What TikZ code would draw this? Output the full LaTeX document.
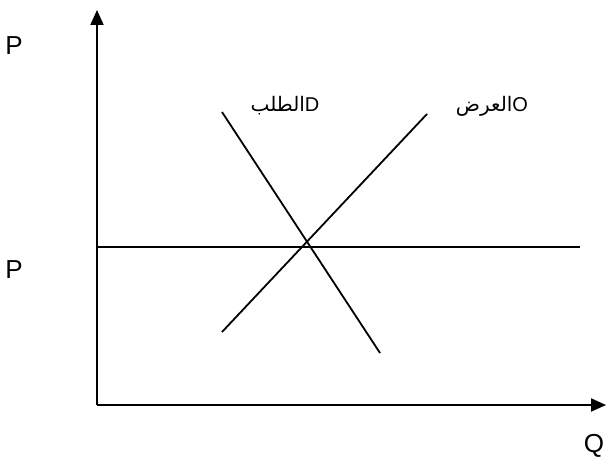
\documentclass[tikz,border=0pt]{standalone}
\usepackage{fontspec}
\setmainfont{Liberation Sans}
\newfontfamily\arabicfont[Script=Arabic]{DejaVu Sans}
\TeXXeTstate=1
\usetikzlibrary{arrows.meta}

\begin{document}
\begin{tikzpicture}[
  x=1pt, y=-1pt,
  axis/.style={-{Triangle[length=15pt, width=13pt]}, line width=2pt, black},
  curve/.style={line width=1.8pt, black},
  axlbl/.style={font=\fontsize{26}{28}\selectfont, inner sep=0pt},
  crvlbl/.style={font=\fontsize{20}{22}\selectfont, inner sep=0pt},
]
\useasboundingbox (0,0) rectangle (608,465);

% axes
\coordinate (origin) at (97,405);
\coordinate (ytop) at (97,10);
\coordinate (xend) at (606,405);
\draw[axis] (origin) -- (ytop);
\draw[axis] (origin) -- (xend);

% price line
\coordinate (pl) at (97,247);
\coordinate (pr) at (580,247);
\draw[curve] (pl) -- (pr);

% demand and supply
\coordinate (d1) at (222,112);
\coordinate (d2) at (380,353);
\coordinate (s1) at (222,332);
\coordinate (s2) at (427,114);
\draw[curve] (d1) -- (d2);
\draw[curve] (s1) -- (s2);

% labels
\node[axlbl] (ptop) at (14,46) {P};
\node[axlbl] (peq) at (14,270) {P};
\node[axlbl] (qlbl) at (594,446) {Q};
\node[crvlbl] (dlbl) at (285,106) {{\arabicfont\beginR الطلب\endR}D};
\node[crvlbl] (slbl) at (492,106) {{\arabicfont\beginR العرض\endR}O};
\end{tikzpicture}
\end{document}
